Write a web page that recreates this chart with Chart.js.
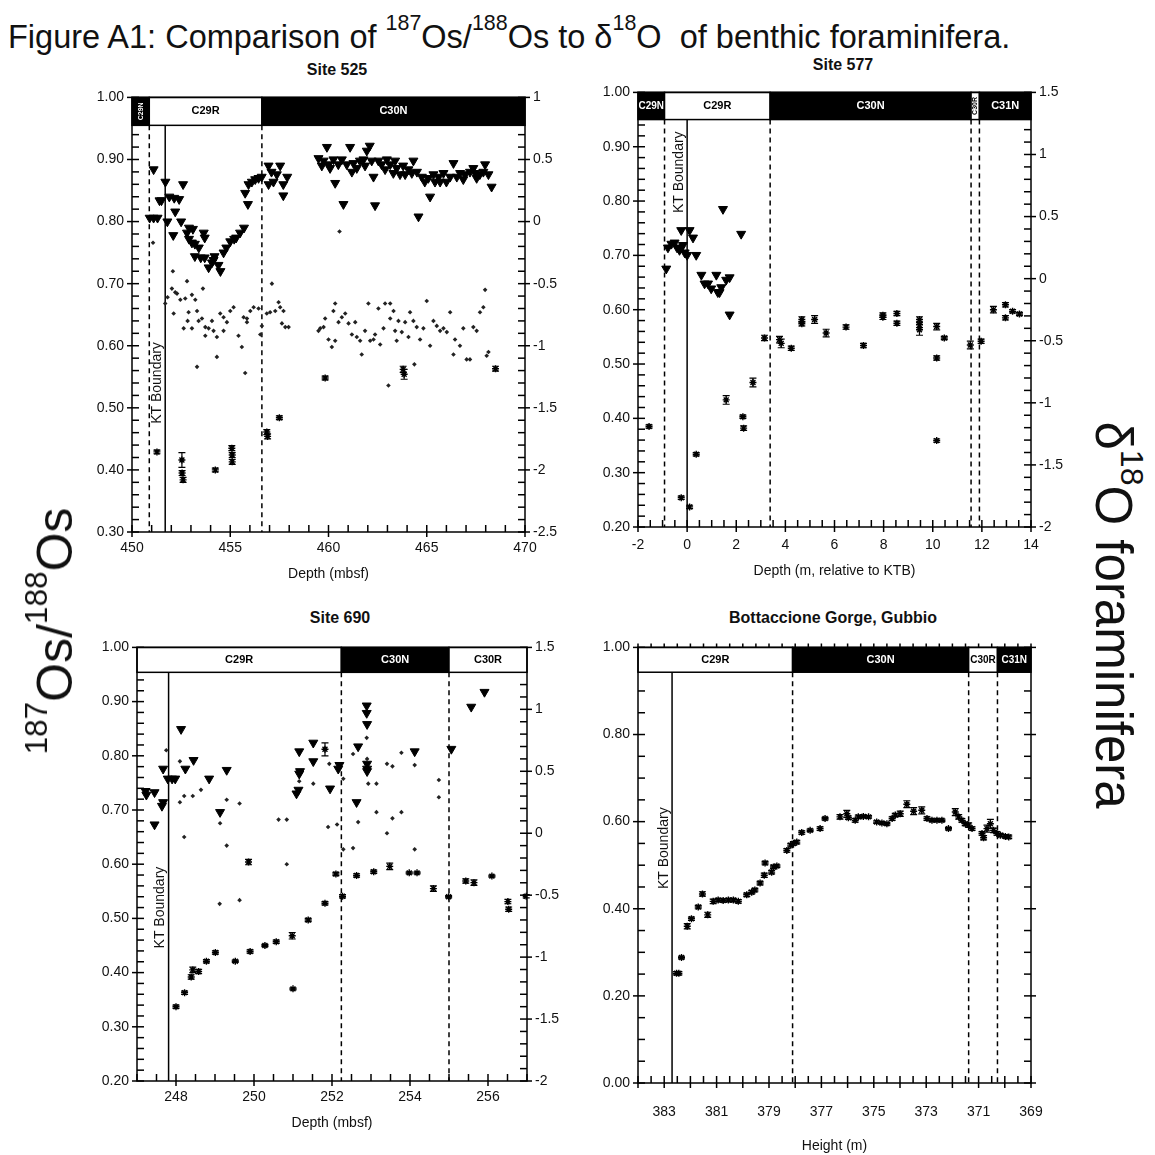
<!DOCTYPE html>
<html>
<head>
<meta charset="utf-8">
<script src="https://cdn.jsdelivr.net/npm/chart.js@4.4.0/dist/chart.umd.min.js"></script>
<style>
body { margin: 0; background: #fff; font-family: "Liberation Sans", Arial, sans-serif; color: #111; }
#page { position: relative; width: 1155px; height: 1155px; overflow: hidden; }
#title { position: absolute; left: 8px; top: 19px; font-size: 32.5px; white-space: nowrap; }
#title sup { font-size: 0.66em; vertical-align: 0.85em; line-height: 0; }
.rot { position: absolute; white-space: nowrap; z-index: 5; }
.rot sup { font-size: 0.63em; vertical-align: 0.8em; line-height: 0; }
.ptitle { position: absolute; transform: translate(-50%, -50%); font-weight: bold; font-size: 16px; white-space: nowrap; }
canvas { position: absolute; }
</style>
</head>
<body>
<div id="page">
  <div id="title">Figure A1: Comparison of <sup>187</sup>Os/<sup>188</sup>Os to &delta;<sup>18</sup>O&nbsp; of benthic foraminifera.</div>
  <div class="rot" style="font-size:50px;left:55px;top:631px;transform:translate(-50%,-50%) rotate(-90deg)"><sup>187</sup>Os/<sup>188</sup>Os</div>
  <div class="rot" style="font-size:51px;left:1113px;top:615px;transform:translate(-50%,-50%) rotate(90deg)">&delta;<sup>18</sup>O foraminifera</div>
  <div class="ptitle" style="left:337px;top:70px">Site 525</div>
  <div class="ptitle" style="left:843px;top:65px">Site 577</div>
  <div class="ptitle" style="left:340px;top:618px">Site 690</div>
  <div class="ptitle" style="left:833px;top:618px">Bottaccione Gorge, Gubbio</div>
</div>
<script>
// ---- Site 525 (depth mbsf) ----
const site525Os = [[451.27,0.429],[452.54,0.416],[452.55,0.395],[452.6,0.384],[454.24,0.4],[455.08,0.435],[455.1,0.424],[455.1,0.413],
  [456.86,0.461],[456.9,0.454],[457.5,0.484],[459.83,0.548],[463.8,0.562],[463.85,0.554],[468.5,0.563]];
const site525OsErr = [0.003,0.012,0.004,0.004,0.003,0.004,0.004,0.004,0.004,0.004,0.003,0.003,0.005,0.008,0.004];
const site525Tri = [[451.1,0.42],[450.9,0.03],[451.1,0.03],[451.3,0.03],[451.4,0.17],[451.5,0.17],[451.7,0.32],[451.8,0.0],[451.9,0.2],
  [452.15,0.19],[452.4,0.18],[452.1,-0.11],[452.2,0.08],[452.5,0.0],[452.6,0.3],[452.8,-0.09],[452.9,-0.14],[453.05,-0.17],[453.2,-0.18],
  [453.4,-0.21],[452.9,-0.05],[453.1,-0.06],[453.65,-0.09],[453.7,-0.13],[453.2,-0.28],[453.5,-0.29],[453.7,-0.29],[453.9,-0.37],
  [454.07,-0.33],[454.2,-0.28],[454.4,-0.35],[454.5,-0.4],[454.15,-0.31],[454.66,-0.25],[454.8,-0.21],[455.0,-0.16],[455.2,-0.14],
  [455.3,-0.13],[455.5,-0.09],[455.7,-0.05],[455.76,0.23],[455.9,0.14],[455.93,0.3],[456.1,0.32],[456.27,0.34],[456.44,0.35],[456.6,0.36],
  [456.95,0.45],[457.1,0.4],[457.37,0.38],[457.54,0.45],[457.7,0.3],[457.9,0.36],[456.95,0.3],[457.2,0.32],[457.7,0.21],
  [459.49,0.51],[459.66,0.45],[459.75,0.49],[459.92,0.6],[460.0,0.46],[460.08,0.43],[460.25,0.5],[460.34,0.31],[460.5,0.46],[460.68,0.5],
  [460.76,0.14],[460.93,0.46],[461.1,0.6],[461.19,0.4],[461.27,0.47],[461.44,0.43],[461.6,0.49],[461.78,0.5],[461.86,0.45],[461.95,0.57],
  [462.1,0.61],[462.2,0.49],[462.29,0.36],[462.37,0.13],[462.54,0.49],[462.7,0.46],[462.88,0.42],[462.97,0.5],[463.14,0.46],[463.3,0.39],
  [463.39,0.49],[463.47,0.43],[463.64,0.38],[463.8,0.45],[463.9,0.38],[464.07,0.42],[464.24,0.39],[464.32,0.49],[464.5,0.4],[464.58,0.04],
  [464.75,0.36],[464.9,0.32],[465.08,0.35],[465.17,0.2],[465.34,0.38],[465.42,0.32],[465.6,0.36],[465.68,0.32],[465.85,0.39],[466.0,0.32],
  [466.19,0.36],[466.36,0.47],[466.53,0.36],[466.7,0.39],[466.86,0.34],[466.95,0.38],[467.2,0.4],[467.37,0.43],[467.46,0.39],[467.54,0.35],
  [467.7,0.38],[467.88,0.4],[467.97,0.46],[468.14,0.38],[468.3,0.28]];
const site525Dots = [[451.07,-0.17],[451.69,-0.66],[451.81,-0.61],[452.08,-0.4],[452.03,-0.54],[452.2,-0.57],[452.29,-0.58],[452.46,-0.63],
  [452.71,-0.62],[452.8,-0.48],[452.83,-0.8],[453.05,-0.59],[453.22,-0.63],[453.31,-0.72],[453.61,-0.54],[453.39,-0.8],[453.73,-0.92],
  [454.49,-0.74],[454.66,-0.77],[454.83,-0.81],[455.0,-0.72],[455.17,-0.69],[455.68,-0.77],[455.85,-0.78],[456.02,-0.72],[456.19,-0.69],
  [456.44,-0.7],[456.61,-0.84],[456.86,-0.74],[457.03,-0.73],[457.12,-0.5],[457.29,-0.72],[457.46,-0.65],[457.54,-0.69],[457.71,-0.72],
  [457.8,-0.85],[457.97,-0.85],[452.12,-0.74],[452.88,-0.73],[452.63,-0.86],[453.05,-0.86],[453.56,-0.78],[453.73,-0.85],[453.9,-0.86],
  [454.07,-0.8],[454.15,-0.88],[454.66,-0.88],[455.85,-0.81],[457.63,-0.82],[453.31,-1.17],[454.32,-0.93],[454.32,-1.09],[455.42,-0.92],
  [455.59,-1.01],[455.76,-1.22],[456.53,-0.91],
  [459.49,-0.88],[459.58,-0.86],[459.75,-0.85],[459.83,-0.78],[460.0,-0.95],[460.17,-1.01],[460.34,-0.96],[460.25,-0.72],[460.51,-0.81],
  [460.68,-0.77],[460.85,-0.74],[461.02,-0.82],[461.19,-0.91],[461.36,-0.81],[461.44,-0.93],[461.61,-0.96],[461.69,-1.07],[461.86,-0.88],
  [462.03,-0.66],[462.12,-0.96],[462.29,-0.95],[462.37,-0.91],[462.54,-0.7],[462.63,-0.99],[462.8,-0.86],[462.88,-0.66],[463.14,-0.78],
  [463.31,-0.72],[463.39,-0.88],[463.47,-0.96],[463.56,-0.8],[463.73,-0.89],[463.9,-0.81],[464.07,-0.93],[464.15,-0.73],[464.32,-0.8],
  [464.49,-0.85],[464.66,-0.95],[464.83,-0.86],[465.0,-0.64],[465.17,-1.0],[465.34,-0.8],[465.51,-0.84],[465.68,-0.88],[465.85,-0.86],
  [466.02,-0.89],[466.19,-0.73],[466.36,-1.07],[466.44,-0.95],[466.69,-1.0],[466.86,-0.86],[467.03,-1.11],[467.2,-1.11],[467.37,-0.85],
  [467.54,-0.88],[467.71,-0.73],[467.88,-0.69],[468.05,-1.08],[468.14,-1.05],[463.05,-1.32],[464.37,-1.15],[460.56,-0.08],[467.97,-0.55],
  [460.34,-0.66],[463.14,-0.66]];
const site525Chrons = ['C29N', 'C29R', 'C30N'];
const site525ChronEdges = [450, 450.88, 456.61, 470];
const site525ChronNormal = [true, false, true];
const site525Dashed = [450.88, 456.61];
const site525KT = 451.69;

// ---- Site 577 (depth m relative to KTB) ----
const site577Os = [[-1.55,0.385],[-0.24,0.254],[0.1,0.237],[0.37,0.334],[1.59,0.434],[2.27,0.403],[2.3,0.382],[2.68,0.466],[3.15,0.548],
  [3.76,0.545],[3.83,0.538],[4.24,0.529],[4.67,0.582],[4.67,0.574],[5.19,0.582],[5.66,0.557],[6.47,0.568],[7.18,0.534],[7.97,0.59],
  [7.97,0.586],[8.54,0.593],[8.54,0.575],[9.46,0.582],[9.46,0.572],[9.46,0.563],[10.16,0.569],[10.16,0.511],[10.16,0.359],[10.47,0.548],
  [11.53,0.535],[11.97,0.542],[12.47,0.6],[12.96,0.609],[12.96,0.585],[13.25,0.597],[13.53,0.592]];
const site577OsErr = [0.003,0.003,0.003,0.003,0.008,0.003,0.004,0.008,0.005,0.006,0.008,0.004,0.005,0.004,0.007,0.007,0.004,0.004,0.004,
  0.004,0.004,0.004,0.005,0.005,0.01,0.006,0.004,0.003,0.003,0.007,0.004,0.006,0.004,0.004,0.003,0.003];
const site577Tri = [[-0.85,0.08],[-0.78,0.25],[-0.64,0.28],[-0.51,0.29],[-0.41,0.25],[-0.31,0.23],[-0.17,0.27],[-0.1,0.21],[0.0,0.19],
  [-0.24,0.39],[0.1,0.39],[0.24,0.33],[0.37,0.19],[0.58,0.03],[0.71,-0.04],[0.85,-0.04],[0.98,-0.08],[1.19,0.03],[1.32,-0.11],
  [1.39,-0.07],[1.59,-0.01],[1.73,0.01],[1.46,0.56],[2.2,0.36],[1.25,-0.11],[1.73,-0.29]];
const site577Chrons = ['C29N', 'C29R', 'C30N', 'C30R', 'C31N'];
const site577ChronEdges = [-2, -0.92, 3.38, 11.56, 11.9, 14];
const site577ChronNormal = [true, false, true, false, true];
const site577Dashed = [-0.92, 3.38, 11.56, 11.9];
const site577KT = 0;

// ---- Site 690 (depth mbsf) ----
const site690Os = [[248.0,0.337],[248.22,0.363],[248.39,0.392],[248.43,0.405],[248.58,0.402],[248.78,0.421],[249.01,0.437],[249.52,0.421],
  [249.9,0.439],[249.86,0.604],[250.28,0.45],[250.57,0.457],[250.98,0.468],[251.0,0.37],[251.39,0.497],[251.82,0.528],[251.82,0.812],
  [252.1,0.582],[252.27,0.541],[252.63,0.579],[253.07,0.586],[253.48,0.596],[253.98,0.584],[254.18,0.584],[254.6,0.555],[254.99,0.54],
  [255.43,0.569],[255.64,0.566],[256.1,0.578],[256.51,0.531],[256.53,0.517],[256.98,0.541]];
const site690OsErr = [0.003,0.003,0.004,0.005,0.004,0.003,0.003,0.002,0.003,0.005,0.002,0.003,0.006,0.002,0.003,0.003,0.012,0.003,0.003,
  0.003,0.003,0.006,0.002,0.002,0.005,0.002,0.004,0.005,0.002,0.004,0.004,0.003];
const site690Tri = [[247.22,0.34],[247.24,0.31],[247.45,0.33],[247.45,0.07],[247.64,0.22],[247.67,0.25],[247.67,0.52],[247.79,0.44],
  [247.9,0.44],[247.98,0.44],[248.13,0.84],[248.24,0.52],[248.45,0.59],[248.85,0.44],[249.13,0.17],[249.3,0.51],[251.09,0.32],
  [251.14,0.35],[251.16,0.48],[251.18,0.5],[251.16,0.66],[251.52,0.73],[251.52,0.58],[251.95,0.36],[252.16,0.52],[252.19,0.55],
  [252.67,0.7],[252.63,0.25],[252.89,1.03],[252.89,0.97],[252.9,0.88],[252.9,0.56],[252.9,0.52],[252.9,0.5],[254.12,0.66],[255.06,0.68],
  [255.57,1.02],[255.91,1.14]];
const site690Dots = [[247.75,0.67],[248.1,0.58],[248.21,-0.03],[248.1,0.25],[248.21,0.3],[248.43,0.3],[248.64,0.35],[249.13,0.08],
  [249.3,0.27],[249.63,0.24],[249.3,-0.1],[250.63,0.11],[250.84,0.11],[250.84,-0.25],[251.16,0.42],[251.52,0.4],[251.93,0.56],[251.9,0.05],
  [252.13,0.07],[252.29,0.44],[252.29,-0.13],[252.54,-0.12],[252.67,0.09],[252.54,0.64],[252.89,0.77],[252.9,0.6],[252.93,0.4],[253.14,0.4],
  [253.14,0.17],[253.41,0.0],[253.55,0.12],[253.41,0.56],[253.55,0.54],[253.78,0.65],[253.78,0.17],[254.12,0.55],[254.12,-0.13],
  [254.74,0.43],[254.74,0.29],[249.12,-0.57],[249.63,-0.54]];
const site690Chrons = ['C29R', 'C30N', 'C30R'];
const site690ChronEdges = [247, 252.24, 255.0, 257];
const site690ChronNormal = [false, true, false];
const site690Dashed = [252.24, 255.0];
const site690KT = 247.81;

// ---- Gubbio (height m) ----
const gubbioOs = [[382.53,0.252],[382.44,0.252],[382.34,0.288],[382.12,0.36],[381.96,0.377],[381.7,0.404],[381.54,0.434],[381.34,0.386],
  [381.13,0.417],[380.94,0.42],[380.75,0.419],[380.55,0.42],[380.36,0.42],[380.17,0.417],[379.85,0.432],[379.66,0.438],[379.54,0.443],
  [379.34,0.459],[379.18,0.477],[379.15,0.505],[378.9,0.484],[378.83,0.496],[378.7,0.498],[378.32,0.534],[378.17,0.546],[378.07,0.55],
  [377.94,0.553],[377.75,0.575],[377.43,0.58],[377.05,0.584],[376.86,0.607],[376.29,0.611],[376.03,0.618],[375.97,0.609],[375.71,0.603],
  [375.59,0.611],[375.4,0.612],[375.2,0.611],[374.89,0.599],[374.69,0.597],[374.5,0.595],[374.3,0.607],[374.18,0.615],[373.99,0.618],
  [373.74,0.64],[373.48,0.624],[373.17,0.626],[372.97,0.607],[372.78,0.603],[372.59,0.603],[372.4,0.603],[372.15,0.584],[371.89,0.622],
  [371.76,0.611],[371.64,0.603],[371.51,0.595],[371.38,0.592],[371.25,0.584],[370.87,0.573],[370.81,0.563],[370.68,0.584],[370.55,0.595],
  [370.43,0.58],[370.3,0.573],[370.17,0.569],[369.98,0.566],[369.85,0.565]];
const gubbioOsErr = [0.004,0.004,0.003,0.006,0.004,0.004,0.005,0.006,0.005,0.004,0.004,0.004,0.004,0.004,0.004,0.004,0.004,0.004,0.005,
  0.004,0.004,0.004,0.003,0.004,0.004,0.004,0.004,0.004,0.003,0.004,0.003,0.005,0.008,0.004,0.004,0.004,0.003,0.003,0.003,0.003,0.003,
  0.004,0.004,0.006,0.008,0.008,0.008,0.004,0.003,0.003,0.003,0.003,0.008,0.005,0.004,0.004,0.005,0.004,0.004,0.005,0.008,0.01,0.005,
  0.004,0.004,0.004,0.004];
const gubbioChrons = ['C29R', 'C30N', 'C30R', 'C31N'];
const gubbioChronEdges = [384, 378.1, 371.38, 370.28, 369];
const gubbioChronNormal = [false, true, false, true];
const gubbioDashed = [378.1, 371.38, 370.28];
const gubbioKT = 382.7;

const FONT = '"Liberation Sans", Arial, sans-serif';

function isMult(v, m) {
    return Math.abs(v / m - Math.round(v / m)) < 1e-6;
}

// tick marks, polarity band, boundary lines, error bars
const framePlugin = {
    id: 'frame',
    beforeDatasetsDraw(chart) {
        const p = chart.options.plugins.frame;
        const ctx = chart.ctx, a = chart.chartArea;
        const xs = chart.scales.x, ys = chart.scales.y;
        const bandBot = ys.getPixelForValue(p.bandLow);
        ctx.save();
        ctx.strokeStyle = '#000';
        ctx.lineWidth = 1.5;
        ctx.setLineDash([5, 4]);
        p.dashed.forEach(v => {
            const x = xs.getPixelForValue(v);
            ctx.beginPath(); ctx.moveTo(x, bandBot); ctx.lineTo(x, a.bottom); ctx.stroke();
        });
        ctx.setLineDash([]);
        const kx = xs.getPixelForValue(p.kt);
        ctx.beginPath(); ctx.moveTo(kx, bandBot); ctx.lineTo(kx, a.bottom); ctx.stroke();
        ctx.translate(kx - 8, ys.getPixelForValue(p.ktLabelAt));
        ctx.rotate(-Math.PI / 2);
        ctx.font = '14px ' + FONT;
        ctx.fillStyle = '#111';
        ctx.textAlign = 'center';
        ctx.textBaseline = 'middle';
        ctx.fillText('KT Boundary', 0, 0);
        ctx.restore();
    },
    afterDatasetsDraw(chart) {
        const p = chart.options.plugins.frame;
        const ctx = chart.ctx, a = chart.chartArea;
        const xs = chart.scales.x, ys = chart.scales.y, ys2 = chart.scales.y2;
        ctx.save();
        ctx.strokeStyle = '#000';

        // error bars
        ctx.lineWidth = 1.2;
        chart.data.datasets.forEach((ds, i) => {
            if (!ds.errs) return;
            const meta = chart.getDatasetMeta(i);
            meta.data.forEach((el, j) => {
                const v = ds.data[j].y, e = ds.errs[j];
                const y1 = ys.getPixelForValue(v + e), y2 = ys.getPixelForValue(v - e);
                ctx.beginPath();
                ctx.moveTo(el.x, y1); ctx.lineTo(el.x, y2);
                ctx.moveTo(el.x - 3.5, y1); ctx.lineTo(el.x + 3.5, y1);
                ctx.moveTo(el.x - 3.5, y2); ctx.lineTo(el.x + 3.5, y2);
                ctx.stroke();
            });
        });

        // tick marks
        ctx.lineWidth = 1.5;
        xs.ticks.forEach(t => {
            const x = xs.getPixelForValue(t.value);
            const major = isMult(t.value, p.xMajor);
            ctx.beginPath();
            ctx.moveTo(x, a.bottom + (major ? 5 : 0)); ctx.lineTo(x, a.bottom - 7);
            if (p.topTicks) { ctx.moveTo(x, a.top); ctx.lineTo(x, a.top - 4); }
            ctx.stroke();
        });
        ys.ticks.forEach(t => {
            const y = ys.getPixelForValue(t.value);
            const major = isMult(t.value, p.yMajor);
            ctx.beginPath();
            ctx.moveTo(a.left - (major ? 5 : 0), y); ctx.lineTo(a.left + 7, y);
            ctx.stroke();
        });
        ys2.ticks.forEach(t => {
            const y = ys2.getPixelForValue(t.value);
            const major = isMult(t.value, p.y2Major);
            ctx.beginPath();
            ctx.moveTo(a.right + (major ? 5 : 0), y); ctx.lineTo(a.right - 7, y);
            ctx.stroke();
        });

        // polarity band
        const top = a.top, bot = ys.getPixelForValue(p.bandLow);
        p.chrons.forEach((name, i) => {
            const x1 = xs.getPixelForValue(p.edges[i]), x2 = xs.getPixelForValue(p.edges[i + 1]);
            const l = Math.min(x1, x2), w = Math.abs(x2 - x1);
            ctx.fillStyle = p.normal[i] ? '#000' : '#fff';
            ctx.fillRect(l, top, w, bot - top);
            ctx.strokeRect(l, top, w, bot - top);
            ctx.fillStyle = p.normal[i] ? '#fff' : '#000';
            ctx.textAlign = 'center';
            ctx.textBaseline = 'middle';
            if (w < 20) {
                ctx.save();
                ctx.translate(l + w / 2, (top + bot) / 2);
                ctx.rotate(-Math.PI / 2);
                ctx.font = 'bold 7px ' + FONT;
                ctx.fillText(name, 0, 0);
                ctx.restore();
            } else {
                ctx.font = (w < 34 ? 'bold 10px ' : 'bold 11px ') + FONT;
                ctx.fillText(name, l + w / 2, (top + bot) / 2);
            }
        });

        // frame
        ctx.lineWidth = 1.5;
        ctx.strokeRect(a.left, a.top, a.right - a.left, a.bottom - a.top);
        ctx.restore();
    }
};

function pts(arr) {
    return arr.map(d => ({ x: d[0], y: d[1] }));
}

function makePanel(cfg) {
    // chart area top ends up 16px below canvas top (half tick label + padding)
    const wl = 62, wr = 46, topOff = 16;
    const cv = document.createElement('canvas');
    const cl = cfg.area[0] - wl, ct = cfg.area[2] - topOff;
    const cw = cfg.area[1] + wr - cl, ch = cfg.area[3] + cfg.hx - ct;
    cv.width = cw; cv.height = ch;
    cv.style.left = cl + 'px'; cv.style.top = ct + 'px';
    cv.style.width = cw + 'px'; cv.style.height = ch + 'px';
    document.getElementById('page').appendChild(cv);

    const tickFont = { family: FONT, size: 14 };
    const datasets = [];
    if (cfg.dots) {
        datasets.push({ label: 'δ18O (small)', data: pts(cfg.dots), yAxisID: 'y2',
            pointStyle: 'rectRot', pointRadius: 2.3, backgroundColor: '#222', borderWidth: 0 });
    }
    if (cfg.tri) {
        datasets.push({ label: 'δ18O', data: pts(cfg.tri), yAxisID: 'y2',
            pointStyle: 'triangle', pointRotation: 180, pointRadius: 5.2,
            backgroundColor: '#000', borderColor: '#000', borderWidth: 1 });
    }
    datasets.push({ label: '187Os/188Os', data: pts(cfg.os), errs: cfg.osErr, yAxisID: 'y',
        pointStyle: 'star', pointRadius: 3.5, borderColor: '#000', backgroundColor: '#000', borderWidth: 1.4 });

    new Chart(cv, {
        type: 'scatter',
        data: { datasets: datasets },
        options: {
            responsive: false,
            animation: false,
            layout: { padding: 0 },
            plugins: {
                legend: { display: false },
                tooltip: { enabled: false },
                frame: {
                    bandLow: cfg.bandLow, dashed: cfg.dashed, kt: cfg.kt, ktLabelAt: cfg.ktLabelAt,
                    chrons: cfg.chrons, edges: cfg.edges, normal: cfg.normal,
                    xMajor: cfg.x.major, yMajor: cfg.y.major, y2Major: cfg.y2.major, topTicks: cfg.topTicks
                }
            },
            scales: {
                x: {
                    type: 'linear', position: 'bottom', min: cfg.x.min, max: cfg.x.max, reverse: !!cfg.x.reverse,
                    grid: { display: false, drawTicks: false }, border: { display: false },
                    ticks: { stepSize: cfg.x.minor, autoSkip: false, maxRotation: 0, minRotation: 0,
                        font: tickFont, color: '#111', padding: cfg.xPad,
                        callback: v => isMult(v, cfg.x.major) && (!cfg.x.odd || Math.round(v) % 2 !== 0) ? String(Math.round(v)) : '' },
                    title: { display: true, text: cfg.x.title, font: { family: FONT, size: 14 }, color: '#111', padding: 0 },
                    afterFit: s => { s.height = cfg.hx; }
                },
                y: {
                    type: 'linear', position: 'left', min: cfg.y.min, max: cfg.y.max,
                    grid: { display: false, drawTicks: false }, border: { display: false },
                    ticks: { stepSize: cfg.y.minor, autoSkip: false, font: tickFont, color: '#111', padding: 8,
                        callback: v => isMult(v, cfg.y.major) ? v.toFixed(2) : '' },
                    afterFit: s => { s.width = wl; }
                },
                y2: {
                    type: 'linear', position: 'right', min: cfg.y2.min, max: cfg.y2.max,
                    grid: { display: false, drawTicks: false }, border: { display: false },
                    ticks: { stepSize: cfg.y2.minor, autoSkip: false, font: tickFont, color: '#111', padding: 8,
                        callback: v => (!cfg.y2.hide && isMult(v, cfg.y2.major)) ? String(Math.round(v * 10) / 10) : '' },
                    afterFit: s => { s.width = wr; }
                }
            }
        },
        plugins: [framePlugin]
    });
}

makePanel({
    area: [132, 525, 97, 532], hx: 51, xPad: 8,
    x: { min: 450, max: 470, minor: 1, major: 5, title: 'Depth (mbsf)' },
    y: { min: 0.3, max: 1.0, minor: 0.02, major: 0.1 },
    y2: { min: -2.5, max: 1, minor: 0.1, major: 0.5 },
    os: site525Os, osErr: site525OsErr, tri: site525Tri, dots: site525Dots,
    chrons: site525Chrons, edges: site525ChronEdges, normal: site525ChronNormal,
    dashed: site525Dashed, kt: site525KT, ktLabelAt: 0.54, bandLow: 0.955
});
makePanel({
    area: [638, 1031, 92, 527], hx: 53, xPad: 10,
    x: { min: -2, max: 14, minor: 0.5, major: 2, title: 'Depth (m, relative to KTB)' },
    y: { min: 0.2, max: 1.0, minor: 0.02, major: 0.1 },
    y2: { min: -2, max: 1.5, minor: 0.1, major: 0.5 },
    os: site577Os, osErr: site577OsErr, tri: site577Tri,
    chrons: site577Chrons, edges: site577ChronEdges, normal: site577ChronNormal,
    dashed: site577Dashed, kt: site577KT, ktLabelAt: 0.853, bandLow: 0.95
});
makePanel({
    area: [137, 527, 647, 1081], hx: 51, xPad: 8,
    x: { min: 247, max: 257, minor: 0.5, major: 2, title: 'Depth (mbsf)' },
    y: { min: 0.2, max: 1.0, minor: 0.02, major: 0.1 },
    y2: { min: -2, max: 1.5, minor: 0.1, major: 0.5 },
    os: site690Os, osErr: site690OsErr, tri: site690Tri, dots: site690Dots,
    chrons: site690Chrons, edges: site690ChronEdges, normal: site690ChronNormal,
    dashed: site690Dashed, kt: site690KT, ktLabelAt: 0.52, bandLow: 0.954
});
makePanel({
    area: [638, 1031, 647, 1083], hx: 72, xPad: 21, topTicks: true,
    x: { min: 369, max: 384, minor: 0.5, major: 1, odd: true, reverse: true, title: 'Height (m)' },
    y: { min: 0, max: 1.0, minor: 0.05, major: 0.2 },
    y2: { min: 0, max: 1.0, minor: 0.05, major: 0.2, hide: true },
    os: gubbioOs, osErr: gubbioOsErr,
    chrons: gubbioChrons, edges: gubbioChronEdges, normal: gubbioChronNormal,
    dashed: gubbioDashed, kt: gubbioKT, ktLabelAt: 0.539, bandLow: 0.943
});
</script>
</body>
</html>
